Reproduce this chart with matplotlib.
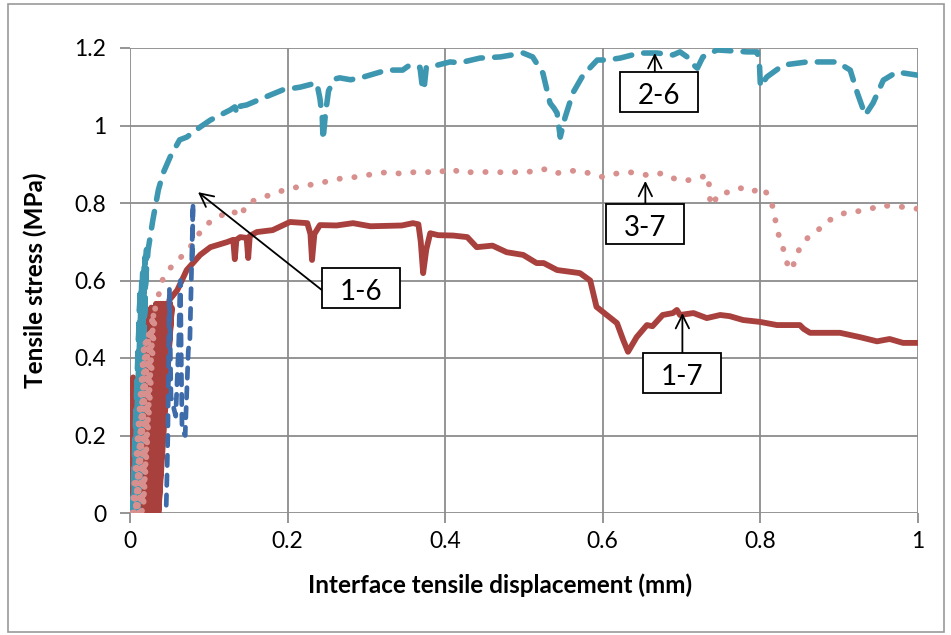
import numpy as np
import matplotlib
matplotlib.use('Agg')
import matplotlib.pyplot as plt
from matplotlib.patches import Rectangle
from matplotlib.ticker import FuncFormatter

plt.rcParams['font.family'] = ['Lato', 'DejaVu Sans']

# loading cycles near the origin (zig-zag between base and peak)
red_cyc_x = [0.003, 0.004, 0.006, 0.024, 0.007, 0.027, 0.010, 0.030, 0.013, 0.033,
             0.016, 0.036, 0.019, 0.039, 0.022, 0.042, 0.025, 0.045, 0.028, 0.048,
             0.031, 0.051, 0.034, 0.053, 0.036, 0.050]
red_cyc_y = [0.0, 0.35, 0.0, 0.52, 0.0, 0.53, 0.0, 0.53, 0.0, 0.54,
             0.0, 0.54, 0.0, 0.54, 0.0, 0.54, 0.0, 0.54, 0.0, 0.54,
             0.0, 0.54, 0.0, 0.53, 0.0, 0.55]

teal_cyc_x = [0.003, 0.013, 0.004, 0.015, 0.006, 0.016, 0.007, 0.018, 0.009, 0.019,
              0.010, 0.021, 0.012, 0.019]
teal_cyc_y = [0.0, 0.58, 0.0, 0.60, 0.0, 0.62, 0.0, 0.64, 0.0, 0.66,
              0.0, 0.68, 0.05, 0.583]

pink_cyc_x = [0.003, 0.018, 0.005, 0.020, 0.007, 0.022, 0.009, 0.024, 0.011, 0.026,
              0.013, 0.028, 0.015, 0.030, 0.017, 0.032]
pink_cyc_y = [0.0, 0.44, 0.0, 0.45, 0.0, 0.46, 0.0, 0.47, 0.0, 0.48,
              0.0, 0.50, 0.0, 0.52, 0.02, 0.53]

# envelopes after the cycles
red_pts = [(0.050, 0.55), (0.060, 0.575), (0.072, 0.627), (0.089, 0.666), (0.102, 0.686),
           (0.123, 0.699), (0.131, 0.705), (0.133, 0.655), (0.135, 0.705), (0.140, 0.712),
           (0.148, 0.710), (0.150, 0.658), (0.152, 0.715), (0.161, 0.725), (0.181, 0.730),
           (0.203, 0.751), (0.225, 0.748), (0.229, 0.720), (0.231, 0.653), (0.234, 0.720),
           (0.241, 0.743), (0.262, 0.742), (0.283, 0.748), (0.305, 0.740), (0.326, 0.741),
           (0.345, 0.742), (0.359, 0.748), (0.366, 0.745), (0.369, 0.700), (0.372, 0.619),
           (0.376, 0.680), (0.381, 0.722), (0.391, 0.717), (0.410, 0.716), (0.428, 0.712),
           (0.440, 0.686), (0.460, 0.690), (0.478, 0.673), (0.499, 0.666), (0.516, 0.645),
           (0.525, 0.645), (0.542, 0.627), (0.571, 0.619), (0.584, 0.600), (0.592, 0.532),
           (0.605, 0.511), (0.618, 0.490), (0.626, 0.446), (0.632, 0.416), (0.643, 0.454),
           (0.656, 0.485), (0.663, 0.482), (0.676, 0.511), (0.689, 0.516), (0.694, 0.524),
           (0.698, 0.511), (0.715, 0.516), (0.732, 0.503), (0.749, 0.511), (0.761, 0.508),
           (0.778, 0.498), (0.800, 0.493), (0.821, 0.485), (0.850, 0.485), (0.855, 0.475),
           (0.863, 0.465), (0.901, 0.465), (0.926, 0.454), (0.948, 0.443), (0.964, 0.449),
           (0.981, 0.439), (1.000, 0.439)]

teal_pts = [(0.019, 0.583), (0.023, 0.679), (0.029, 0.756), (0.036, 0.834), (0.042, 0.877),
            (0.051, 0.919), (0.063, 0.963), (0.072, 0.970), (0.089, 0.996), (0.102, 1.014),
            (0.127, 1.040), (0.133, 1.048), (0.136, 1.030), (0.140, 1.050), (0.148, 1.053),
            (0.169, 1.071), (0.194, 1.092), (0.216, 1.099), (0.237, 1.110), (0.241, 1.070),
            (0.244, 1.020), (0.245, 0.963), (0.248, 1.030), (0.252, 1.090), (0.260, 1.120),
            (0.266, 1.123), (0.280, 1.118), (0.296, 1.125), (0.326, 1.143), (0.346, 1.143),
            (0.355, 1.156), (0.368, 1.150), (0.371, 1.100), (0.373, 1.092), (0.376, 1.150),
            (0.381, 1.151), (0.406, 1.164), (0.419, 1.162), (0.444, 1.174), (0.470, 1.177),
            (0.499, 1.187), (0.511, 1.177), (0.524, 1.135), (0.533, 1.058), (0.538, 1.045),
            (0.542, 1.032), (0.546, 0.970), (0.552, 1.020), (0.562, 1.084), (0.575, 1.130),
            (0.593, 1.169), (0.605, 1.169), (0.622, 1.174), (0.647, 1.187), (0.669, 1.187),
            (0.689, 1.182), (0.698, 1.190), (0.707, 1.177), (0.713, 1.160), (0.720, 1.148),
            (0.727, 1.177), (0.745, 1.195), (0.783, 1.190), (0.796, 1.190), (0.799, 1.150),
            (0.800, 1.100), (0.808, 1.125), (0.829, 1.156), (0.859, 1.164), (0.897, 1.164),
            (0.914, 1.143), (0.923, 1.084), (0.933, 1.027), (0.943, 1.058), (0.956, 1.117),
            (0.973, 1.138), (0.999, 1.130)]

pink_pts = [(0.032, 0.53), (0.042, 0.606), (0.051, 0.632), (0.061, 0.653), (0.074, 0.679),
            (0.085, 0.712), (0.093, 0.738), (0.105, 0.756), (0.117, 0.769), (0.127, 0.782),
            (0.138, 0.770), (0.142, 0.765), (0.146, 0.795), (0.159, 0.808), (0.171, 0.816),
            (0.184, 0.826), (0.197, 0.834), (0.212, 0.841), (0.226, 0.846), (0.241, 0.851),
            (0.256, 0.859), (0.270, 0.864), (0.286, 0.867), (0.301, 0.872), (0.315, 0.877),
            (0.330, 0.880), (0.345, 0.875), (0.362, 0.880), (0.377, 0.880), (0.391, 0.877),
            (0.406, 0.890), (0.421, 0.877), (0.435, 0.880), (0.450, 0.880), (0.467, 0.880),
            (0.482, 0.877), (0.497, 0.883), (0.512, 0.880), (0.528, 0.888), (0.542, 0.877),
            (0.556, 0.883), (0.571, 0.883), (0.586, 0.875), (0.600, 0.867), (0.614, 0.875),
            (0.631, 0.880), (0.645, 0.877), (0.660, 0.870), (0.675, 0.877), (0.689, 0.864),
            (0.704, 0.857), (0.720, 0.864), (0.734, 0.872), (0.735, 0.840), (0.736, 0.810),
            (0.740, 0.792), (0.745, 0.821), (0.759, 0.828), (0.774, 0.839), (0.789, 0.828),
            (0.802, 0.841), (0.812, 0.815), (0.816, 0.787), (0.819, 0.756), (0.822, 0.725),
            (0.827, 0.694), (0.832, 0.663), (0.835, 0.635), (0.840, 0.627), (0.844, 0.655),
            (0.850, 0.684), (0.860, 0.710), (0.871, 0.725), (0.883, 0.751), (0.896, 0.764),
            (0.910, 0.777), (0.925, 0.779), (0.940, 0.785), (0.954, 0.795), (0.969, 0.790),
            (0.985, 0.790), (0.999, 0.785)]

blue_x = [0.046, 0.047, 0.048, 0.049, 0.050, 0.052, 0.058, 0.060, 0.062, 0.063,
          0.064, 0.066, 0.070, 0.074, 0.076, 0.078, 0.080, 0.079]
blue_y = [0.02, 0.10, 0.20, 0.40, 0.58, 0.30, 0.25, 0.35, 0.45, 0.55,
          0.60, 0.22, 0.20, 0.42, 0.45, 0.62, 0.80, 0.66]

# annotations: label, box centre, arrow tip, arrow start
labels = ['2-6', '3-7', '1-7', '1-6']
box_xy = [(0.671, 1.086), (0.654, 0.745), (0.700, 0.361), (0.293, 0.581)]
tip_xy = [(0.666, 1.187), (0.654, 0.857), (0.701, 0.516), (0.0863, 0.828)]
start_xy = [(0.666, 1.138), (0.654, 0.797), (0.701, 0.413), (0.2437, 0.575)]

x_ticks = [0, 0.2, 0.4, 0.6, 0.8, 1.0]
y_ticks = [0, 0.2, 0.4, 0.6, 0.8, 1.0, 1.2]

RED = '#A8413D'
TEAL = '#3E97B0'
PINK = '#D8908E'
BLUE = '#3E6BAA'

fig = plt.figure(figsize=(9.51, 6.35), dpi=100)
fig.patches.append(Rectangle((8 / 951, 3 / 635), 936 / 951, 628 / 635,
                             transform=fig.transFigure, fill=False,
                             edgecolor='#9a9a9a', lw=1.2))
ax = fig.add_axes([130 / 951, 1 - 513 / 635, 788 / 951, 465 / 635])

# red 1-7
rx = red_cyc_x + [p[0] for p in red_pts]
ry = red_cyc_y + [p[1] for p in red_pts]
ax.plot(rx, ry, color=RED, lw=4.2, solid_joinstyle='round', solid_capstyle='round', zorder=3)

# teal 2-6
tx = teal_cyc_x + [p[0] for p in teal_pts]
ty = teal_cyc_y + [p[1] for p in teal_pts]
ax.plot(tx, ty, color=TEAL, lw=4.0, linestyle=(0, (3.0, 2.2)),
        dash_capstyle='round', dash_joinstyle='round', zorder=4)

# pink 3-7
px = pink_cyc_x + [p[0] for p in pink_pts]
py = pink_cyc_y + [p[1] for p in pink_pts]
ax.plot(px, py, color=PINK, lw=4.2, linestyle=(0, (0.05, 2.5)),
        dash_capstyle='round', zorder=5)

# blue 1-6
ax.plot(blue_x, blue_y, color=BLUE, lw=3.4, linestyle=(0, (2.2, 2.0)),
        dash_capstyle='round', zorder=6)

# label boxes: 78 x 40 px
bw = 78 / 788
bh = 40 * 1.2 / 465
for lab, b, t, s in zip(labels, box_xy, tip_xy, start_xy):
    ax.annotate('', xy=t, xytext=s,
                arrowprops=dict(arrowstyle='->', color='black', lw=1.3,
                                mutation_scale=24, shrinkA=0, shrinkB=0),
                zorder=7)
    ax.add_patch(Rectangle((b[0] - bw / 2, b[1] - bh / 2), bw, bh, fc='white',
                           ec='black', lw=1.3, zorder=8))
    ax.text(b[0], b[1] - 0.01, lab, fontsize=20, ha='center', va='center', zorder=9)

ax.set_xlim(0, 1)
ax.set_ylim(0, 1.2)
ax.set_xticks(x_ticks)
ax.set_yticks(y_ticks)
fmt = FuncFormatter(lambda v, p: '%g' % v)
ax.xaxis.set_major_formatter(fmt)
ax.yaxis.set_major_formatter(fmt)
ax.grid(True, color='#8c8c8c', lw=1.3)
ax.set_axisbelow(True)
for sp in ax.spines.values():
    sp.set_visible(False)
ax.tick_params(axis='both', length=7, width=1.3, color='#8c8c8c', labelsize=16.5)
ax.tick_params(axis='y', pad=10)
ax.tick_params(axis='x', pad=6)
ax.set_xlabel('Interface tensile displacement (mm)', fontsize=17.5, fontweight='bold')
ax.xaxis.set_label_coords((500 - 130) / 788, -(573 - 513) / 465)
ax.set_ylabel('Tensile stress (MPa)', fontsize=17.5, fontweight='bold')
ax.yaxis.set_label_coords(-(130 - 47) / 788, 0.5)

fig.savefig('out.png', dpi=100)
